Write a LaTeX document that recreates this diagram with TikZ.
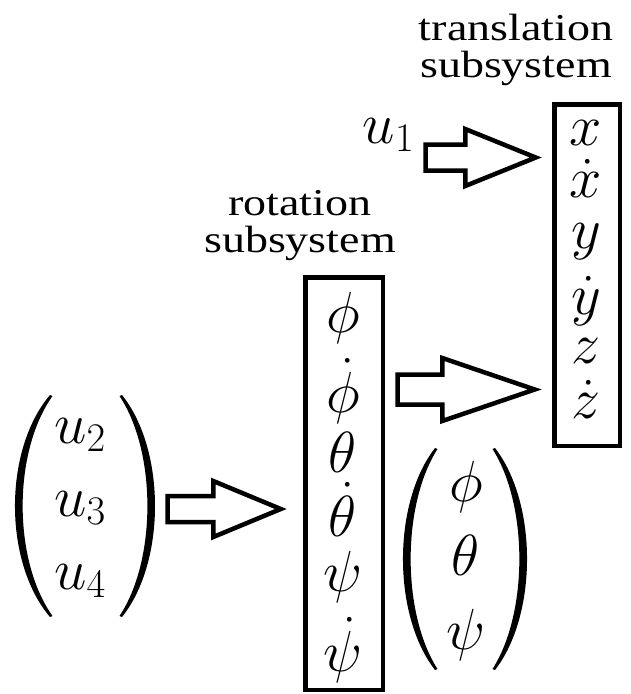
\RequirePackage{fix-cm}
\documentclass[tikz,border=0pt]{standalone}
\usepackage{amsmath}
\usepackage[no-math]{fontspec}
\setmainfont{Liberation Serif}
\usepackage{graphicx}
\usetikzlibrary{calc}
\newcommand\blockarrow[5]{%
  \draw[blockarr] let \p1=(#1), \p2=(#2) in
  (\x1,\y1+#3) -- (\x2-#5,\y1+#3) -- (\x2-#5,\y1+#4) -- (\x2,\y1) --
  (\x2-#5,\y1-#4) -- (\x2-#5,\y1-#3) -- (\x1,\y1-#3) -- cycle;}
\tikzset{
  mth/.style={inner sep=0pt, anchor=base, font=\fontsize{58}{64}\selectfont},
  lbl/.style={inner sep=0pt, anchor=base, font=\fontsize{38}{38}\selectfont},
  sysbox/.style={draw, line width=4.5pt, inner sep=0pt},
  blockarr/.style={draw, line width=4.5pt, line join=miter, fill=white},
  paren/.style={fill=black, draw=none}
}
\begin{document}
\begin{tikzpicture}[x=1pt,y=-1pt]
\useasboundingbox (0,0) rectangle (630,694);
% labels
\node[lbl] (tl1) at (516,40) {\scalebox{1.21}[1]{translation}};
\node[lbl] (tl2) at (516,77) {\scalebox{1.21}[1]{subsystem}};
\node[lbl] (rl1) at (300,215) {\scalebox{1.21}[1]{rotation}};
\node[lbl] (rl2) at (300,252) {\scalebox{1.21}[1]{subsystem}};
% boxes
\node[sysbox, minimum width=65.5pt, minimum height=341.5pt] (trans) at (587,275) {};
\node[sysbox, minimum width=77.5pt, minimum height=412.5pt] (rot) at (344,483.5) {};
% translation entries
\node[mth] (tx) at (586,145) {$x$};
\node[mth] (tdx) at (586,197) {$\dot{x}$};
\node[mth] (ty) at (586,248) {$y$};
\node[mth] (tdy) at (586,314) {$\dot{y}$};
\node[mth] (tz) at (586,363) {$z$};
\node[mth] (tdz) at (586,418) {$\dot{z}$};
% rotation entries
\node[mth] (rphi) at (343,332) {$\phi$};
\node[mth] (rdphi) at (343,412) {$\dot{\phi}$};
\node[mth] (rth) at (343,472) {$\theta$};
\node[mth] (rdth) at (343,536) {$\dot{\theta}$};
\node[mth] (rpsi) at (343,591) {$\psi$};
\node[mth] (rdpsi) at (343,671) {$\dot{\psi}$};
% u1
\node[mth] (u1) at (388.5,143) {$u_1$};
% u vector
\node[mth] (u2) at (80,443) {$u_2$};
\node[mth] (u3) at (80,516) {$u_3$};
\node[mth] (u4) at (80,589) {$u_4$};
\fill[paren] (50,395) .. controls (3.3,450) and (3.3,562) .. (50,617) -- (52.5,616) .. controls (12.7,560) and (12.7,452) .. (52.5,396) -- cycle;
\fill[paren] (122,395) .. controls (166,450) and (166,562) .. (122,617) -- (119.5,616) .. controls (156.7,560) and (156.7,452) .. (119.5,396) -- cycle;
% angle vector
\node[mth] (aphi) at (466,501) {$\phi$};
\node[mth] (ath) at (466,575) {$\theta$};
\node[mth] (apsi) at (466,649) {$\psi$};
\fill[paren] (435,448) .. controls (392.3,503) and (392.3,615) .. (435,670) -- (437.5,669) .. controls (401.7,613) and (401.7,505) .. (437.5,449) -- cycle;
\fill[paren] (495,448) .. controls (537.7,503) and (537.7,615) .. (495,670) -- (492.5,669) .. controls (528.3,613) and (528.3,505) .. (492.5,449) -- cycle;
% arrows
\coordinate (a1s) at (425.5,157.5);
\coordinate (a1e) at ([xshift=-16.25pt]trans.west);
\blockarrow{a1s}{a1e}{13pt}{28.5pt}{70.5pt}
\coordinate (a2s) at (397.5,389.5);
\coordinate (a2e) at ([xshift=-17.25pt]trans.west);
\blockarrow{a2s}{a2e}{15pt}{31.5pt}{92.5pt}
\coordinate (a3s) at (167.5,509);
\coordinate (a3e) at ([xshift=-22.25pt]rot.west);
\blockarrow{a3s}{a3e}{13pt}{28pt}{67.5pt}
\end{tikzpicture}
\end{document}
